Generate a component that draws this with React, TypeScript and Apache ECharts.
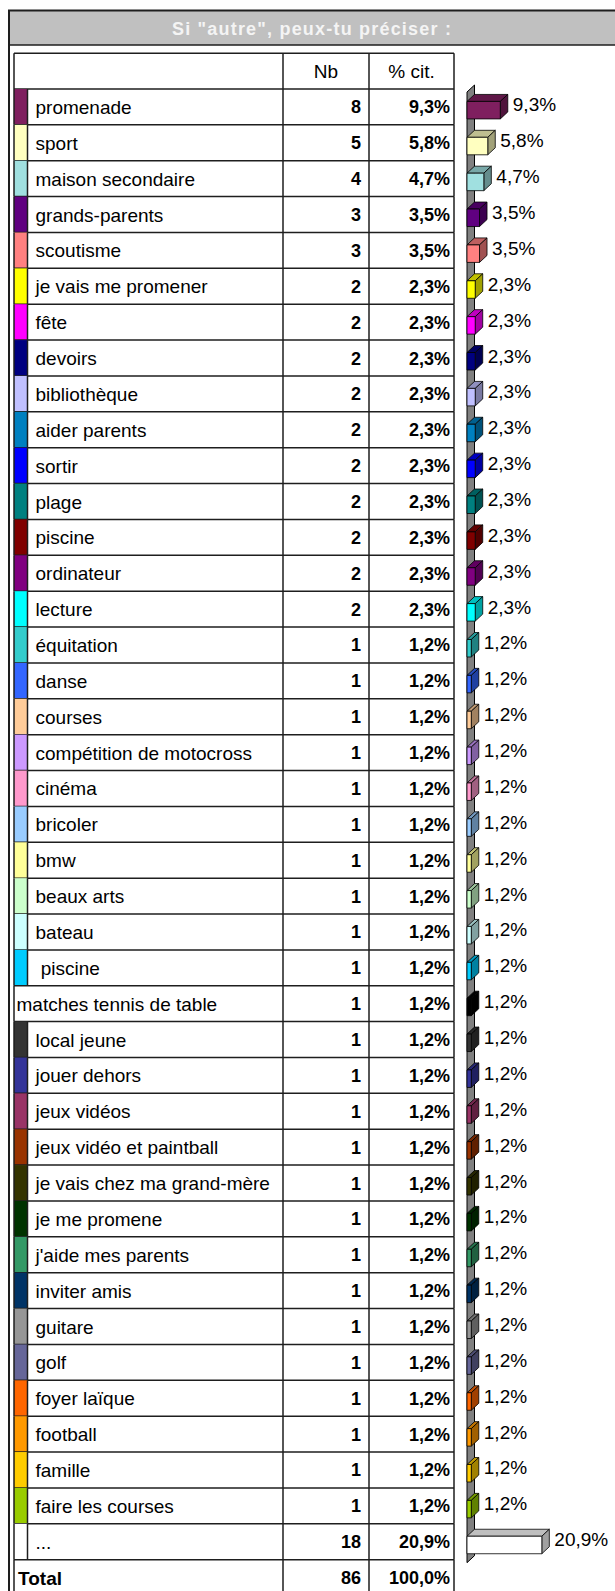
import React, { useEffect, useRef } from 'react';
import * as echarts from 'echarts';

const title = 'Si "autre", peux-tu préciser :';
const headerLabels = ['Nb', '% cit.'];
const categories = [
  'promenade', 'sport', 'maison secondaire', 'grands-parents', 'scoutisme',
  'je vais me promener', 'fête', 'devoirs', 'bibliothèque', 'aider parents',
  'sortir', 'plage', 'piscine', 'ordinateur', 'lecture',
  'équitation', 'danse', 'courses', 'compétition de motocross', 'cinéma',
  'bricoler', 'bmw', 'beaux arts', 'bateau', ' piscine',
  'matches tennis de table', 'local jeune', 'jouer dehors', 'jeux vidéos', 'jeux vidéo et paintball',
  'je vais chez ma grand-mère', 'je me promene', "j'aide mes parents", 'inviter amis', 'guitare',
  'golf', 'foyer laïque', 'football', 'famille', 'faire les courses',
  '...',
];
const counts = [
  8, 5, 4, 3, 3,
  2, 2, 2, 2, 2,
  2, 2, 2, 2, 2,
  1, 1, 1, 1, 1,
  1, 1, 1, 1, 1,
  1, 1, 1, 1, 1,
  1, 1, 1, 1, 1,
  1, 1, 1, 1, 1,
  18,
];
const percents = [
  9.3, 5.8, 4.7, 3.5, 3.5,
  2.3, 2.3, 2.3, 2.3, 2.3,
  2.3, 2.3, 2.3, 2.3, 2.3,
  1.2, 1.2, 1.2, 1.2, 1.2,
  1.2, 1.2, 1.2, 1.2, 1.2,
  1.2, 1.2, 1.2, 1.2, 1.2,
  1.2, 1.2, 1.2, 1.2, 1.2,
  1.2, 1.2, 1.2, 1.2, 1.2,
  20.9,
];
const colors = [
  '#7F1F5F', '#FFFFC0', '#A0E0E0', '#600080', '#FF8080',
  '#FFFF00', '#FF00FF', '#000080', '#C0C0FF', '#0080C0',
  '#0000FF', '#008080', '#800000', '#800080', '#00FFFF',
  '#33CCCC', '#3366FF', '#FFCC99', '#CC99FF', '#FF99CC',
  '#99CCFF', '#FFFF99', '#CCFFCC', '#CCFFFF', '#00CCFF',
  '#000000', '#333333', '#333399', '#993366', '#993300',
  '#333300', '#003300', '#339966', '#003366', '#969696',
  '#666699', '#FF6600', '#FF9900', '#FFCC00', '#99CC00',
  '#FFFFFF',
];
const rowsWithoutSwatch = ['matches tennis de table'];
const totalLabel = 'Total';
const totalCount = 86;
const totalPercent = 100.0;

const rowKeys = ['header', ...categories, totalLabel];

const FAM = '"Liberation Sans", Arial, Helvetica, sans-serif';
const fmtPct = (v: number) => v.toFixed(1).replace('.', ',') + '%';

function shade(hex: string, k: number) {
  const n = parseInt(hex.slice(1), 16);
  const r = Math.round(((n >> 16) & 255) * k);
  const g = Math.round(((n >> 8) & 255) * k);
  const b = Math.round((n & 255) * k);
  return `rgb(${r},${g},${b})`;
}

function txt(str: string, x: number, y: number, align: string, font: string, fill = '#000') {
  return {
    type: 'text',
    x,
    y,
    silent: true,
    style: {
      text: str,
      font,
      fill,
      align,
      textAlign: align,
      verticalAlign: 'middle',
      textVerticalAlign: 'middle',
    },
  };
}

export default function App() {
  const ref = useRef<HTMLDivElement>(null);

  useEffect(() => {
    document.body.style.margin = '0';
    if (!ref.current) return;
    const chart = echarts.init(ref.current, undefined, { renderer: 'svg' });

    const ROW_H = 35.87;
    const GRID_TOP = 89 - ROW_H;
    const GRID_H = ROW_H * rowKeys.length;
    const LINE = { stroke: '#1e1e1e', lineWidth: 1.5 };
    const line = (x1: number, y1: number, x2: number, y2: number) => ({
      type: 'line', silent: true, shape: { x1, y1, x2, y2 }, style: LINE,
    });

    const tableRender = (params: any, api: any) => {
      const i = api.value(1);
      const cs = params.coordSys;
      const c = api.coord([0, i])[1];
      const h = api.size([0, 1])[1];
      const top = c - h / 2;
      const bot = c + h / 2;
      const x0 = cs.x;
      const x3 = cs.x + cs.width;
      const c1 = x0 + 269;
      const c2 = x0 + 355;
      const swW = 13.5;
      const ty = c + 0.5;
      const children: any[] = [];
      const regular = `19px ${FAM}`;
      const bold = `bold 18px ${FAM}`;
      if (i === 0) {
        children.push(line(x0, top, x3, top));
        children.push(txt(headerLabels[0], (c1 + c2) / 2, ty, 'center', regular));
        children.push(txt(headerLabels[1], (c2 + x3) / 2, ty, 'center', regular));
      } else if (i === rowKeys.length - 1) {
        children.push(txt(totalLabel, x0 + 4, ty, 'left', `bold 19px ${FAM}`));
        children.push(txt(String(totalCount), c2 - 8, ty, 'right', bold));
        children.push(txt(fmtPct(totalPercent), x3 - 4, ty, 'right', bold));
      } else {
        const k = i - 1;
        const name = categories[k];
        const hasSwatch = rowsWithoutSwatch.indexOf(name) < 0;
        if (hasSwatch) {
          children.push({
            type: 'rect', silent: true,
            shape: { x: x0, y: top, width: swW, height: h },
            style: { fill: colors[k] },
          });
          children.push(line(x0 + swW, top, x0 + swW, bot));
        }
        children.push(txt(name, hasSwatch ? x0 + 21.5 : x0 + 2.5, ty, 'left', regular));
        children.push(txt(String(counts[k]), c2 - 8, ty, 'right', bold));
        children.push(txt(fmtPct(percents[k]), x3 - 4, ty, 'right', bold));
      }
      children.push(line(x0, top, x0, bot));
      children.push(line(c1, top, c1, bot));
      children.push(line(c2, top, c2, bot));
      children.push(line(x3, top, x3, bot));
      children.push(line(x0, bot, x3, bot));
      return { type: 'group', children };
    };

    const DX = 7.5;
    const DY = 7;

    const wallRender = (params: any, api: any) => {
      const h = api.size([0, 1])[1];
      const first = api.coord([0, 1]);
      const last = api.coord([0, categories.length]);
      const L = first[0];
      const T = first[1] - h / 2 + 3;
      const B = last[1] + h / 2 + 3;
      return {
        type: 'polygon',
        silent: true,
        shape: { points: [[L, T], [L + DX, T - DY], [L + DX, B - DY], [L, B]] },
        style: { fill: '#808080', stroke: '#000', lineWidth: 1 },
      };
    };

    const barRender = (params: any, api: any) => {
      const v = api.value(0);
      const idx = api.value(1);
      const s = api.coord([0, idx]);
      const e = api.coord([v, idx]);
      const c = s[1];
      const x0 = s[0];
      const x1 = e[0];
      const yt = c - 5.5;
      const yb = c + 12;
      const col = colors[params.dataIndex];
      const stroke = { stroke: '#000', lineWidth: 0.8, lineJoin: 'miter' };
      return {
        type: 'group',
        children: [
          {
            type: 'polygon', silent: true,
            shape: { points: [[x0, yt], [x0 + DX, yt - DY], [x1 + DX, yt - DY], [x1, yt]] },
            style: { fill: shade(col, 0.75), ...stroke },
          },
          {
            type: 'polygon', silent: true,
            shape: { points: [[x1, yt], [x1 + DX, yt - DY], [x1 + DX, yb - DY], [x1, yb]] },
            style: { fill: shade(col, 0.63), ...stroke },
          },
          {
            type: 'rect', silent: true,
            shape: { x: x0, y: yt, width: x1 - x0, height: yb - yt },
            style: { fill: col, ...stroke },
          },
          txt(fmtPct(v), x1 + DX + 5, c - 2, 'left', `19px ${FAM}`),
        ],
      };
    };

    chart.setOption({
      animation: false,
      grid: [
        { left: 14, top: GRID_TOP, width: 440, height: GRID_H, outerBoundsMode: 'none', containLabel: false },
        { left: 467, top: GRID_TOP, width: 107.4, height: GRID_H, outerBoundsMode: 'none', containLabel: false },
      ],
      xAxis: [
        { type: 'value', gridIndex: 0, min: 0, max: 1, show: false },
        { type: 'value', gridIndex: 1, min: 0, max: 30, show: false },
      ],
      yAxis: [
        { type: 'category', gridIndex: 0, data: rowKeys, inverse: true, show: false },
        { type: 'category', gridIndex: 1, data: rowKeys, inverse: true, show: false },
      ],
      graphic: [
        { type: 'rect', silent: true, shape: { x: 9, y: 11, width: 620, height: 34 }, style: { fill: '#C0C0C0' } },
        { type: 'line', silent: true, shape: { x1: 8, y1: 10.5, x2: 620, y2: 10.5 }, style: { stroke: '#1e1e1e', lineWidth: 2 } },
        { type: 'line', silent: true, shape: { x1: 8, y1: 45, x2: 620, y2: 45 }, style: { stroke: '#1e1e1e', lineWidth: 1.5 } },
        { type: 'line', silent: true, shape: { x1: 9, y1: 10, x2: 9, y2: 1600 }, style: { stroke: '#1e1e1e', lineWidth: 2 } },
        {
          type: 'text', silent: true, x: 312, y: 28.5,
          style: {
            text: title, font: `bold 18px ${FAM}`, fill: '#F4F4F4',
            align: 'center', textAlign: 'center', verticalAlign: 'middle', textVerticalAlign: 'middle',
          },
        },
      ],
      series: [
        {
          type: 'custom',
          name: 'table',
          xAxisIndex: 0,
          yAxisIndex: 0,
          clip: false,
          silent: true,
          renderItem: tableRender,
          data: rowKeys.map((_, i) => [0, i]),
        },
        {
          type: 'custom',
          name: 'wall',
          xAxisIndex: 1,
          yAxisIndex: 1,
          clip: false,
          silent: true,
          renderItem: wallRender,
          data: [[0, 1]],
        },
        {
          type: 'custom',
          name: '% cit.',
          xAxisIndex: 1,
          yAxisIndex: 1,
          clip: false,
          silent: true,
          renderItem: barRender,
          data: percents.map((p, i) => [p, i + 1]),
        },
      ],
    });

    const applySpacing = () => {
      const root = ref.current;
      if (!root) return;
      root.querySelectorAll('text').forEach((t) => {
        if (t.textContent === title) (t as SVGTextElement).style.letterSpacing = '1.2px';
      });
    };
    applySpacing();
    chart.on('finished', applySpacing);

    return () => {
      chart.dispose();
    };
  }, []);

  return <div ref={ref} style={{ width: 615, height: 1591, overflow: 'hidden' }} />;
}
